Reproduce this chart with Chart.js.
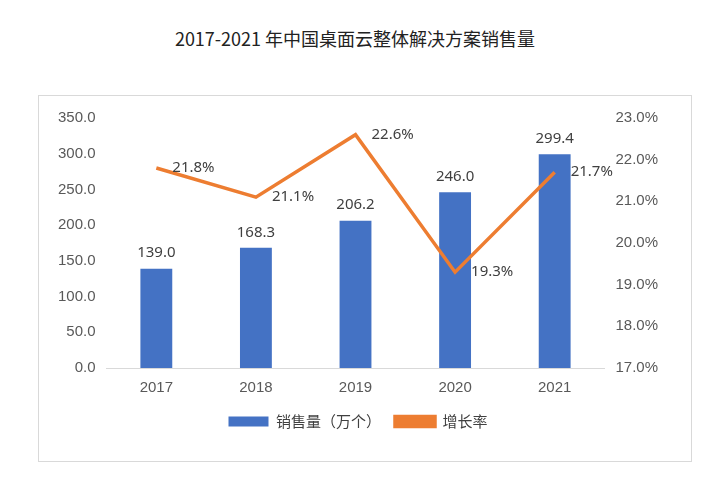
<!DOCTYPE html>
<html>
<head>
<meta charset="utf-8">
<script src="https://cdn.jsdelivr.net/npm/chart.js@4/dist/chart.umd.min.js"></script>
<style>
  body { margin: 0; background: #fff; font-family: "Noto Sans CJK SC", "Noto Sans", sans-serif; }
  #title { position: absolute; left: 0; width: 710px; top: 25px; text-align: center; font-size: 18px; color: #222; }
  #box { position: absolute; left: 38px; top: 95px; width: 652px; height: 365px; border: 1px solid #d9d9d9; }
</style>
</head>
<body>
<div id="title">2017-2021 年中国桌面云整体解决方案销售量</div>
<div id="box"><canvas id="c" width="652" height="365"></canvas></div>
<script>
  const years = ['2017', '2018', '2019', '2020', '2021'];
  const sales = [139.0, 168.3, 206.2, 246.0, 299.4];
  const growth = [21.8, 21.1, 22.6, 19.3, 21.7];

  const labelPlugin = {
    id: 'labels',
    afterDatasetsDraw(chart) {
      const ctx = chart.ctx;
      ctx.save();
      ctx.font = '15px "Noto Sans", sans-serif';
      ctx.fillStyle = '#404040';
      chart.getDatasetMeta(0).data.forEach((el, i) => {
        ctx.textAlign = 'center';
        ctx.textBaseline = 'bottom';
        ctx.fillText(sales[i].toFixed(1), el.x, el.y - 8);
      });
      chart.getDatasetMeta(1).data.forEach((el, i) => {
        ctx.textAlign = 'left';
        ctx.textBaseline = 'middle';
        ctx.fillText(growth[i].toFixed(1) + '%', el.x + 16, el.y);
      });
      ctx.restore();
    }
  };

  new Chart(document.getElementById('c'), {
    data: {
      labels: years,
      datasets: [
        { type: 'bar', label: '销售量（万个）', data: sales, backgroundColor: '#4472C4', yAxisID: 'y', barPercentage: 0.32, categoryPercentage: 1, order: 2 },
        { type: 'line', label: '增长率', data: growth, borderColor: '#ED7D31', backgroundColor: '#ED7D31', borderWidth: 3.5, pointRadius: 0, yAxisID: 'y1', order: 1 }
      ]
    },
    options: {
      responsive: false,
      animation: false,
      layout: { padding: { left: 16, right: 30, top: 22, bottom: 22 } },
      plugins: {
        legend: {
          position: 'bottom',
          labels: {
            sort: (a, b) => a.datasetIndex - b.datasetIndex,
            font: { size: 15, family: '"Noto Sans CJK SC", sans-serif' }, color: '#404040', boxWidth: 40, boxHeight: 10, padding: 14
          }
        },
        tooltip: { enabled: false }
      },
      scales: {
        x: { grid: { display: false }, border: { color: '#d9d9d9' }, ticks: { font: { size: 15 }, color: '#595959' } },
        y: {
          position: 'left', min: 0, max: 350,
          ticks: { stepSize: 50, font: { size: 15 }, color: '#595959', callback: v => v.toFixed(1) },
          grid: { display: false }, border: { display: false }
        },
        y1: {
          position: 'right', min: 17, max: 23,
          ticks: { stepSize: 1, font: { size: 15 }, color: '#595959', callback: v => v.toFixed(1) + '%' },
          grid: { display: false }, border: { display: false }
        }
      }
    },
    plugins: [labelPlugin]
  });
</script>
</body>
</html>
